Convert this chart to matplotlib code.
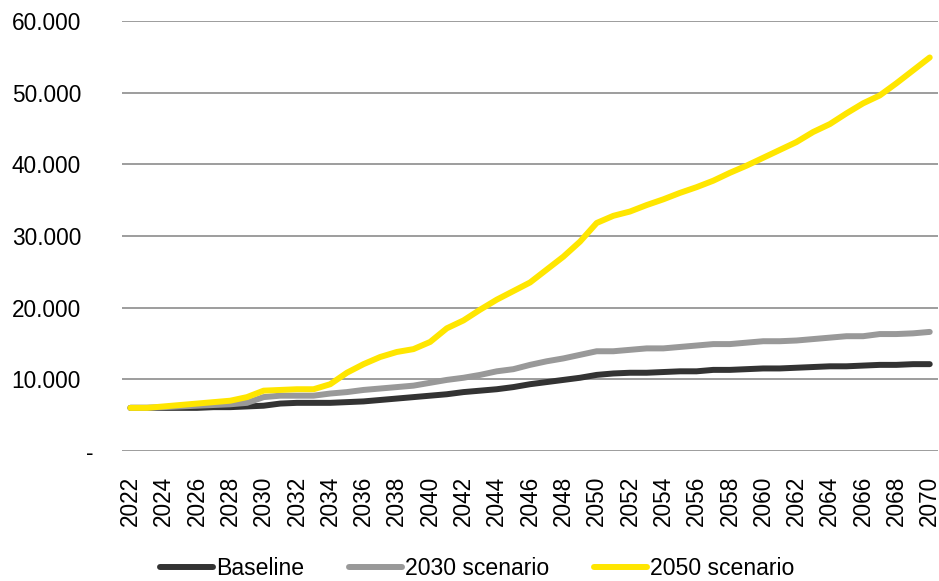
import numpy as np
import matplotlib.pyplot as plt
from matplotlib.ticker import FuncFormatter
import matplotlib.transforms as mtransforms

plt.rcParams['font.family'] = ['Liberation Sans', 'DejaVu Sans']

years = list(range(2022, 2071))

# values in thousands
baseline = [6.0, 6.0, 6.0, 6.0, 6.0, 6.1, 6.1, 6.2, 6.3, 6.6, 6.7, 6.7, 6.7,
            6.8, 6.9, 7.1, 7.3, 7.5, 7.7, 7.9, 8.2, 8.4, 8.6, 8.9, 9.3,
            9.6, 9.9, 10.2, 10.6, 10.8, 10.9, 10.9, 11.0, 11.1, 11.1, 11.3, 11.3,
            11.4, 11.5, 11.5, 11.6, 11.7, 11.8, 11.8, 11.9, 12.0, 12.0, 12.1, 12.1]
scen_2030 = [6.0, 6.0, 6.1, 6.2, 6.3, 6.4, 6.5, 6.7, 7.5, 7.7, 7.7, 7.7, 8.0,
             8.2, 8.5, 8.7, 8.9, 9.1, 9.5, 9.9, 10.2, 10.6, 11.1, 11.4, 12.0,
             12.5, 12.9, 13.4, 13.9, 13.9, 14.1, 14.3, 14.3, 14.5, 14.7, 14.9, 14.9,
             15.1, 15.3, 15.3, 15.4, 15.6, 15.8, 16.0, 16.0, 16.3, 16.3, 16.4, 16.6]
scen_2050 = [6.0, 6.0, 6.2, 6.4, 6.6, 6.8, 7.0, 7.5, 8.4, 8.5, 8.6, 8.6, 9.3,
             10.9, 12.1, 13.1, 13.8, 14.2, 15.2, 17.1, 18.2, 19.7, 21.1, 22.3, 23.5,
             25.3, 27.1, 29.2, 31.8, 32.8, 33.4, 34.3, 35.1, 36.0, 36.8, 37.7, 38.8,
             39.8, 40.9, 42.0, 43.1, 44.5, 45.6, 47.1, 48.5, 49.6, 51.3, 53.1, 54.9]

fig = plt.figure(figsize=(9.39, 5.81), dpi=100)
ax = fig.add_axes([0.130, 0.224, 0.869, 0.740])

kw = dict(linewidth=4.3, solid_capstyle='round')
ax.plot(years, np.array(baseline) * 1000, color='#333333', label='Baseline', **kw)
ax.plot(years, np.array(scen_2030) * 1000, color='#999999', label='2030 scenario', **kw)
ax.plot(years, np.array(scen_2050) * 1000, color='#FFE600', label='2050 scenario', **kw)

ax.set_xlim(2021.5, 2070.5)
ax.set_ylim(0, 60000)
ax.set_yticks(range(0, 60001, 10000))
ax.set_xticks(years[::2])
ax.yaxis.set_major_formatter(FuncFormatter(
    lambda v, p: '' if v == 0 else f'{int(v):,}'.replace(',', '.')))
ax.grid(axis='y', color='#8c8c8c', linewidth=1.2)
ax.set_axisbelow(True)
for s in ax.spines.values():
    s.set_visible(False)
ax.tick_params(axis='y', length=0, pad=29.5, labelsize=16.3)
ax.tick_params(axis='x', length=0, pad=18, labelsize=16.3, labelrotation=90)

# zero shown as a dash
trans = mtransforms.blended_transform_factory(ax.transAxes, ax.transData)
ax.text(-0.039, -400, '-', transform=trans, ha='center', va='center', fontsize=16.3)

fig.legend(loc='center', bbox_to_anchor=(0.508, 0.021), ncol=3, frameon=False,
           fontsize=16.6, handlelength=2.3, handletextpad=0.12, columnspacing=1.95)

fig.savefig('out.png', dpi=100)
